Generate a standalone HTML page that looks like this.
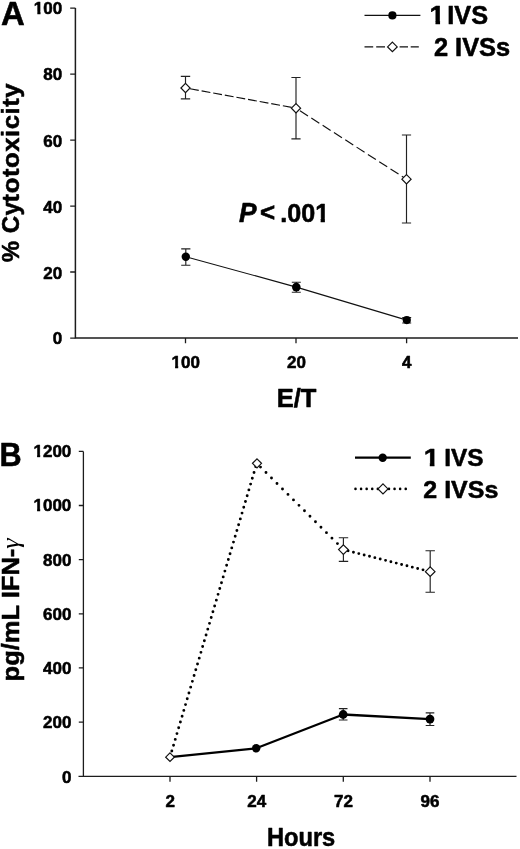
<!DOCTYPE html>
<html>
<head>
<meta charset="utf-8">
<title>Figure</title>
<style>
html,body{margin:0;padding:0;background:#fff;}
body{width:520px;height:849px;overflow:hidden;}
svg{display:block;}
text{font-family:"Liberation Sans",sans-serif;font-weight:bold;fill:#000;stroke:#000;stroke-width:0.55px;stroke-linejoin:round;}
.ax{stroke:#1c1c1c;stroke-width:1.3;fill:none;}
.eb{stroke:#222;stroke-width:1.15;fill:none;}
.ln{stroke:#111;stroke-width:1.15;fill:none;}
.lnb{stroke:#000;stroke-width:2.3;fill:none;}
.dots{stroke:#000;stroke-width:2.9;fill:none;stroke-linecap:round;}
.dia{fill:#fff;stroke:#111;stroke-width:1.2;}
.dot{fill:#000;}
</style>
</head>
<body>
<svg width="520" height="849" viewBox="0 0 520 849">
<defs><clipPath id="one17" clipPathUnits="userSpaceOnUse"><path d="M-0.34 -17.00H10.20V-2.38H6.67V1.02H3.58V-2.38H-0.34Z"/></clipPath><clipPath id="one25" clipPathUnits="userSpaceOnUse"><path d="M-0.50 -25.00H15.00V-3.50H9.62V1.50H5.45V-3.50H-0.50Z"/></clipPath></defs>
<rect width="520" height="849" fill="#fff"/>
<!-- ================= Panel A geometry ================= -->
<g id="panelA">
<path class="ax" style="stroke-width:1.5" d="M75.4 8.1V338.1H518"/>
<path class="ax" d="M70.2 8.1H75.4M70.2 74.1H75.4M70.2 140.2H75.4M70.2 206.2H75.4M70.2 272H75.4M70.2 338.1H75.4"/>
<path class="ax" d="M185.5 338.1V343.2M296 338.1V343.2M406.6 338.1V343.2"/>
<!-- 2 IVSs dashed -->
<path class="ln" stroke-dasharray="8.9 2.9" d="M190 88.8L296 108.2"/>
<path class="ln" stroke-dasharray="9.5 3.95" d="M300 110.77L406.5 179.2"/>
<path class="eb" d="M185.5 76.3V98.8M180.8 76.3H190.2M180.8 98.8H190.2"/>
<path class="eb" d="M296 77.5V138.8M291.4 77.5H300.6M291.4 138.8H300.6"/>
<path class="eb" d="M406.5 135V223M401.9 135H411.1M401.9 223H411.1"/>
<path class="dia" d="M185.5 83.4L190.1 88L185.5 92.6L180.9 88Z"/>
<path class="dia" d="M296 103.6L300.6 108.2L296 112.8L291.4 108.2Z"/>
<path class="dia" d="M406.5 174.6L411.1 179.2L406.5 183.8L401.9 179.2Z"/>
<!-- 1 IVS solid -->
<path class="ln" d="M185.8 256.7L296.3 287.1L406.8 320.1"/>
<path class="eb" d="M185.8 248.8V265.2M181.2 248.8H190.4M181.2 265.2H190.4"/>
<path class="eb" d="M296.3 282.2V292.2M291.8 282.2H300.8M291.8 292.2H300.8"/>
<path class="eb" d="M406.7 317.5V323M402.2 317.5H411.2M402.2 323H411.2"/>
<circle class="dot" cx="185.8" cy="256.7" r="4.2"/>
<circle class="dot" cx="296.3" cy="287.1" r="4.3"/>
<circle class="dot" cx="406.8" cy="320.1" r="4.1"/>
<!-- legend -->
<path class="ln" d="M364.5 15.4H420.4"/>
<circle class="dot" cx="392.4" cy="15.4" r="4.1"/>
<path class="ln" d="M364.5 46.9H373.2M376.2 46.9H385M399.6 46.9H408M410.7 46.9H418.8"/>
<path class="dia" d="M392.4 42.1L397.2 46.9L392.4 51.7L387.6 46.9Z"/>
</g>
<!-- ================= Panel B geometry ================= -->
<g id="panelB">
<path class="ax" d="M83.4 451.4V776.3H516.5"/>
<path class="ax" d="M78.8 451.4H83.4M78.8 505.5H83.4M78.8 559.6H83.4M78.8 613.8H83.4M78.8 667.9H83.4M78.8 722.1H83.4M78.5 776.3H83.4"/>
<path class="ax" d="M170 776.3V781.8M256.6 776.3V781.8M343.3 776.3V781.8M430 776.3V781.8"/>
<!-- 2 IVSs dotted -->
<path class="dots" stroke-dasharray="0 6.05" d="M171.83 751L256.75 463.25"/>
<path class="dots" stroke-dasharray="0 7.75" d="M260.5 467.1L343.4 549.5"/>
<path class="dots" stroke-dasharray="0 5.52" d="M348.1 550.87L430.2 571.7"/>
<path class="eb" d="M343.4 537.7V561.3M338.8 537.7H348.2M338.8 561.3H348.2"/>
<path class="eb" d="M430.2 550.7V592.2M425.5 550.7H434.9M425.5 592.2H434.9"/>
<path class="dia" d="M257 458.80L261.50 463.3L257 467.80L252.50 463.3Z"/>
<path class="dia" d="M343.4 544.80L348.20 549.6L343.4 554.40L338.60 549.6Z"/>
<path class="dia" d="M430.2 566.90L435.00 571.7L430.2 576.50L425.40 571.7Z"/>
<!-- 1 IVS solid -->
<path class="lnb" stroke-linejoin="round" d="M170 757.2L256.2 748.3L343.2 714.5L430 719.1"/>
<path class="eb" d="M343.2 708.6V720M338.9 708.6H347.5M338.9 720H347.5"/>
<path class="eb" d="M430 712.9V725.5M425.7 712.9H434.3M425.7 725.5H434.3"/>
<circle class="dot" cx="256.2" cy="748.3" r="4.2"/>
<circle class="dot" cx="343.2" cy="714.5" r="4.4"/>
<circle class="dot" cx="430" cy="719.1" r="4.4"/>
<path class="dia" d="M170 752.9L174.3 757.2L170 761.5L165.7 757.2Z"/>
<!-- legend -->
<path class="lnb" d="M355 457.7H410.8"/>
<circle class="dot" cx="382.7" cy="457.7" r="4.2"/>
<path class="dots" style="stroke-width:2.6" stroke-dasharray="0 5.58" d="M355.5 488.9H406"/>
<path class="dia" d="M383 483.90L388.00 488.9L383 493.90L378.00 488.9Z"/>
</g>

<g id="labels">
<g transform="matrix(1.0273 0 0 1.0133 0.89 24.75)"><text font-size="32" >A</text></g>
<g transform="matrix(0.9580 0 0 1.0267 -0.48 465.54)"><text font-size="32" >B</text></g>
<g transform="translate(33.80 14.05)"><g transform="translate(0.00 0)"><text font-size="17" clip-path="url(#one17)">1</text></g><text x="9.45" font-size="17">00</text></g>
<g transform="translate(43.30 80.15)"><text font-size="17" >80</text></g>
<g transform="translate(43.30 146.95)"><text font-size="17" >60</text></g>
<g transform="translate(43.30 212.75)"><text font-size="17" >40</text></g>
<g transform="translate(43.30 278.55)"><text font-size="17" >20</text></g>
<g transform="translate(52.80 344.45)"><text font-size="17" >0</text></g>
<g transform="translate(171.50 368.25)"><g transform="translate(0.00 0)"><text font-size="17" clip-path="url(#one17)">1</text></g><text x="9.45" font-size="17">00</text></g>
<g transform="translate(287.02 368.25)"><text font-size="17" >20</text></g>
<g transform="translate(402.12 368.38)"><text font-size="17" >4</text></g>
<g transform="translate(33.50 456.85)"><g transform="translate(0.00 0)"><text font-size="17" clip-path="url(#one17)">1</text></g><text x="9.45" font-size="17">200</text></g>
<g transform="translate(33.50 511.15)"><g transform="translate(0.00 0)"><text font-size="17" clip-path="url(#one17)">1</text></g><text x="9.45" font-size="17">000</text></g>
<g transform="translate(43.00 565.55)"><text font-size="17" >800</text></g>
<g transform="translate(43.00 619.95)"><text font-size="17" >600</text></g>
<g transform="translate(43.00 674.15)"><text font-size="17" >400</text></g>
<g transform="translate(43.00 728.45)"><text font-size="17" >200</text></g>
<g transform="translate(62.00 782.55)"><text font-size="17" >0</text></g>
<g transform="translate(165.38 807.08)"><text font-size="17" >2</text></g>
<g transform="translate(247.27 807.08)"><text font-size="17" >24</text></g>
<g transform="translate(334.00 807.08)"><text font-size="17" >72</text></g>
<g transform="translate(420.62 806.95)"><text font-size="17" >96</text></g>
<g transform="matrix(0.9821 0 0 0.9671 276.73 407.27)"><text font-size="26" >E/T</text></g>
<g transform="matrix(0.9471 0 0 1.0222 266.88 846.19)"><text font-size="25" >Hours</text></g>
<g transform="matrix(0 -0.9610 0.9900 0 19.20 262.34)"><text font-size="25" letter-spacing="0.55">% Cy</text></g><g transform="matrix(0 -1.0254 0.9900 0 19.20 202.40)"><text font-size="25" letter-spacing="0.55">totoxicity</text></g>
<g transform="matrix(0 -1.0215 0.9705 0 19.26 681.43)"><text font-size="25" >pg/mL IFN-</text></g><g transform="matrix(0 -1.1886 1.1458 0 19.16 548.69)"><text font-size="22" style="font-family:'Liberation Serif',serif;font-weight:normal;font-style:italic;stroke:none">γ</text></g>
<g transform="matrix(1.0507 0 0 1.0761 238.94 222.33)"><text font-size="25" font-style="italic">P</text></g>
<g transform="matrix(1.0385 0 0 1.0000 260.12 221.25)"><text font-size="25" >&lt;</text></g>
<g transform="matrix(1.0047 0 0 1.0356 280.29 222.08)"><text x="0.00" font-size="25">.00</text><g transform="translate(34.75 0)"><text font-size="25" clip-path="url(#one25)">1</text></g></g>
<g transform="matrix(1.0909 0 0 1.0254 429.56 24.24)"><g transform="translate(0.00 0)"><text font-size="25" clip-path="url(#one25)">1</text></g></g>
<g transform="matrix(1.0132 0 0 1.0301 447.28 24.28)"><text font-size="25" >IVS</text></g>
<g transform="matrix(1.0169 0 0 1.0137 433.89 56.29)"><text font-size="25" >2 IVSs</text></g>
<g transform="matrix(1.1152 0 0 0.9690 423.73 466.36)"><g transform="translate(0.00 0)"><text font-size="25" clip-path="url(#one25)">1</text></g></g>
<g transform="matrix(0.9763 0 0 0.9699 444.14 466.42)"><text font-size="25" >IVS</text></g>
<g transform="matrix(0.9993 0 0 0.9644 423.30 498.12)"><text font-size="25" >2 IVSs</text></g>
</g>
</svg>
</body>
</html>
